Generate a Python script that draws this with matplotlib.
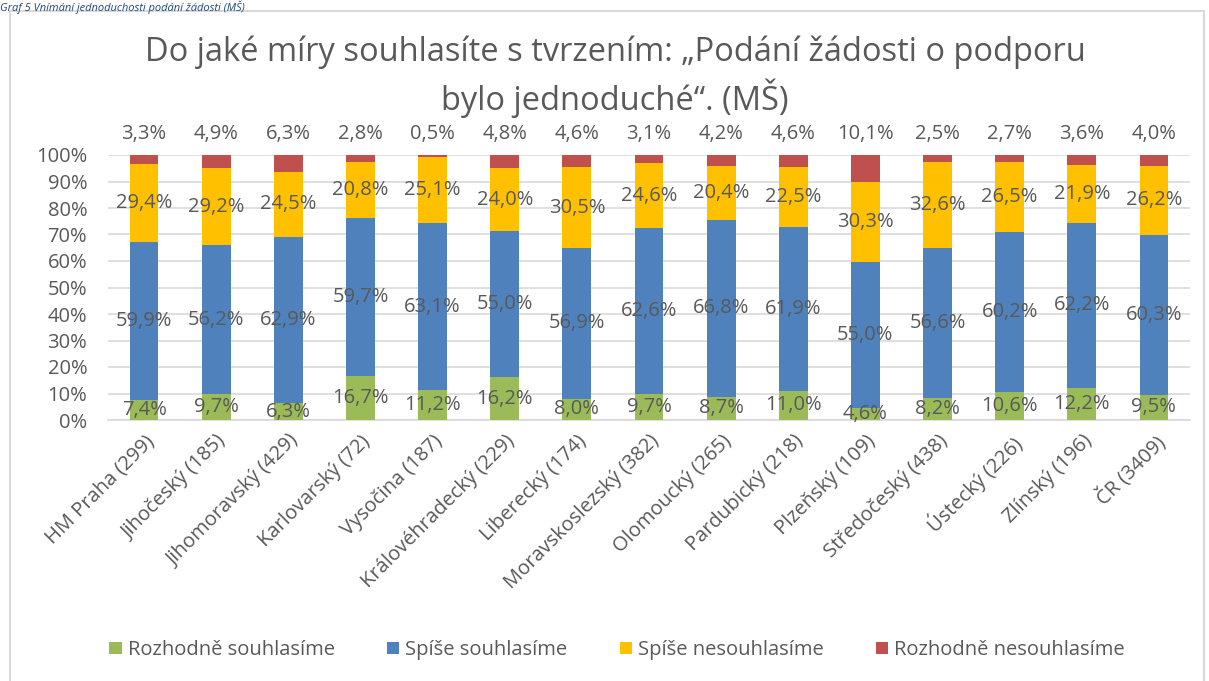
import matplotlib.pyplot as plt
import numpy as np
from matplotlib.patches import Rectangle

plt.rcParams['font.family'] = ['Open Sans', 'DejaVu Sans']

# data
regions = ['HM Praha (299)', 'Jihočeský (185)', 'Jihomoravský (429)', 'Karlovarský (72)',
           'Vysočina (187)', 'Královéhradecký (229)', 'Liberecký (174)', 'Moravskoslezský (382)',
           'Olomoucký (265)', 'Pardubický (218)', 'Plzeňský (109)', 'Středočeský (438)',
           'Ústecký (226)', 'Zlínský (196)', 'ČR (3409)']
rozhodne_souhlasime = [7.4, 9.7, 6.3, 16.7, 11.2, 16.2, 8.0, 9.7, 8.7, 11.0, 4.6, 8.2, 10.6, 12.2, 9.5]
spise_souhlasime = [59.9, 56.2, 62.9, 59.7, 63.1, 55.0, 56.9, 62.6, 66.8, 61.9, 55.0, 56.6, 60.2, 62.2, 60.3]
spise_nesouhlasime = [29.4, 29.2, 24.5, 20.8, 25.1, 24.0, 30.5, 24.6, 20.4, 22.5, 30.3, 32.6, 26.5, 21.9, 26.2]
rozhodne_nesouhlasime = [3.3, 4.9, 6.3, 2.8, 0.5, 4.8, 4.6, 3.1, 4.2, 4.6, 10.1, 2.5, 2.7, 3.6, 4.0]

series = [('Rozhodně souhlasíme', rozhodne_souhlasime, '#9BBB59'),
          ('Spíše souhlasíme', spise_souhlasime, '#4F81BD'),
          ('Spíše nesouhlasíme', spise_nesouhlasime, '#FFC000'),
          ('Rozhodně nesouhlasíme', rozhodne_nesouhlasime, '#C0504D')]

txt = '#595959'
fs = 14.5
fig = plt.figure(figsize=(12.09, 6.81), dpi=100)
ax = fig.add_axes([108 / 1209, 1 - 420 / 681, (1190 - 108) / 1209, 265 / 681])

# chart frame and caption above it
fig.patches.append(Rectangle((10 / 1209, -0.05), 1194 / 1209, 1.05 - 11 / 681, transform=fig.transFigure,
                             fill=False, edgecolor='#D9D9D9', linewidth=1.5))
fig.text(0.0, 1.0, 'Graf 5 Vnímání jednoduchosti podání žádosti (MŠ)', color='#1F497D',
         style='italic', fontsize=8, va='top', ha='left')

x = np.arange(len(regions))
bottom = np.zeros(len(regions))
for name, vals, col in series:
    vals = np.array(vals)
    ax.bar(x, vals / 100, 0.4, bottom=bottom / 100, color=col, label=name, zorder=3)
    for xi, b, v in zip(x, bottom, vals):
        lab = f'{v:.1f}%'.replace('.', ',')
        if name == 'Rozhodně nesouhlasíme':
            ax.text(xi, 1.0 + 0.08, lab, ha='center', va='center', fontsize=fs, color=txt)
        else:
            ax.text(xi, (b + v / 2) / 100, lab, ha='center', va='center', fontsize=fs, color=txt, zorder=4)
    bottom = bottom + vals

ax.set_xlim(-0.5, len(regions) - 0.5)
ax.set_ylim(0, 1)
ax.set_yticks(np.arange(0, 1.01, 0.1))
ax.set_yticklabels([f'{int(round(v * 100))}%' for v in np.arange(0, 1.01, 0.1)], fontsize=fs, color=txt)
ax.set_xticks(x)
ax.set_xticklabels(regions, rotation=45, ha='right', rotation_mode='anchor', fontsize=fs, color=txt)
ax.tick_params(axis='x', length=0, pad=8)
ax.tick_params(axis='y', length=0, pad=15)
ax.grid(axis='y', color='#D9D9D9', linewidth=1.2, zorder=0)
for s in ['top', 'right', 'left']:
    ax.spines[s].set_visible(False)
ax.spines['bottom'].set_color('#D9D9D9')
ax.spines['bottom'].set_linewidth(1.2)

fig.text(615 / 1209, 1 - 52 / 681, 'Do jaké míry souhlasíte s tvrzením: „Podání žádosti o podporu',
         ha='center', va='center', fontsize=23.5, color=txt)
fig.text(615 / 1209, 1 - 98 / 681, 'bylo jednoduché“. (MŠ)',
         ha='center', va='center', fontsize=23.5, color=txt)

fig.legend(loc='center', bbox_to_anchor=(617 / 1209, 1 - 650 / 681), ncol=4, frameon=False,
           fontsize=fs, handlelength=0.6, handleheight=0.6, handletextpad=0.3, columnspacing=2.6,
           labelcolor=txt)

fig.savefig('out.png', dpi=100)
